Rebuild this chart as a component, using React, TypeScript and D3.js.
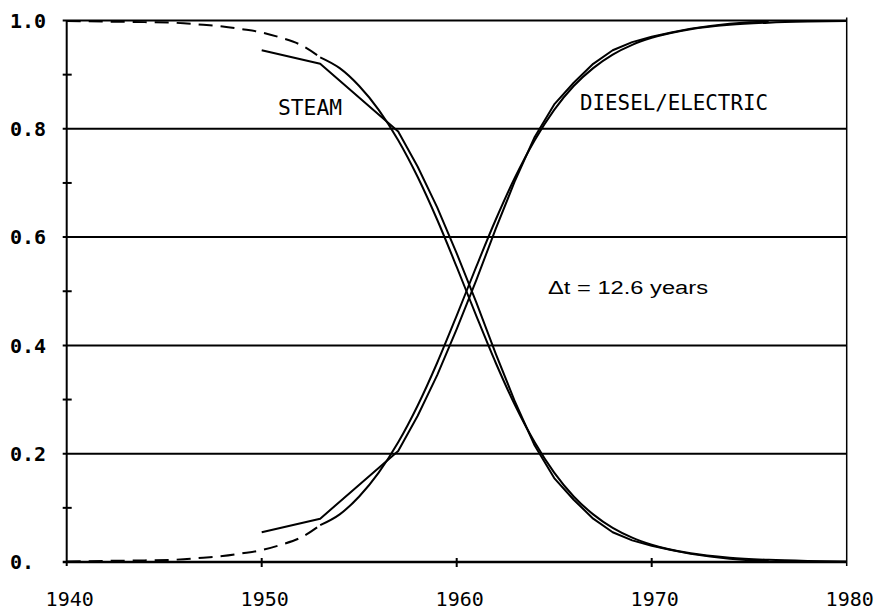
import React, { useEffect, useRef } from "react";
import * as d3 from "d3";

// logistic fit curves
const fitYears = [
  1940, 1942, 1944, 1946, 1947, 1948, 1949, 1950, 1951, 1952, 1953, 1954, 1955,
  1956, 1957, 1958, 1959, 1960, 1961, 1962, 1963, 1964, 1965, 1966, 1967, 1968,
  1969, 1970, 1972, 1974, 1976, 1978, 1980,
];
const dieselFit = [
  0.001, 0.002, 0.003, 0.005, 0.008, 0.011, 0.016, 0.022, 0.032, 0.045, 0.068,
  0.088, 0.121, 0.165, 0.221, 0.289, 0.368, 0.455, 0.545, 0.632, 0.711, 0.779,
  0.835, 0.879, 0.912, 0.937, 0.955, 0.968, 0.984, 0.992, 0.996, 0.998, 0.999,
];
const steamFit = [
  0.999, 0.998, 0.997, 0.995, 0.992, 0.989, 0.984, 0.978, 0.968, 0.955, 0.932,
  0.912, 0.879, 0.835, 0.779, 0.711, 0.632, 0.545, 0.455, 0.368, 0.289, 0.221,
  0.165, 0.121, 0.088, 0.063, 0.045, 0.032, 0.016, 0.008, 0.004, 0.002, 0.001,
];
const fitDashedUntil = 1953;

// observed shares
const dataYears = [
  1950, 1953, 1957, 1958, 1959, 1960, 1961, 1962, 1963, 1964, 1965, 1966, 1967,
  1968, 1969, 1970, 1971, 1972, 1973, 1974, 1975, 1976,
];
const dieselData = [
  0.055, 0.08, 0.205, 0.27, 0.345, 0.43, 0.52, 0.615, 0.705, 0.785, 0.845,
  0.885, 0.92, 0.945, 0.96, 0.97, 0.978, 0.985, 0.99, 0.994, 0.997, 0.998,
];
const steamData = [
  0.945, 0.92, 0.795, 0.73, 0.655, 0.57, 0.48, 0.385, 0.295, 0.215, 0.155,
  0.115, 0.08, 0.055, 0.04, 0.03, 0.022, 0.015, 0.01, 0.006, 0.003, 0.002,
];

const xTicks = [1940, 1950, 1960, 1970, 1980];
const yTicks = [0, 0.2, 0.4, 0.6, 0.8, 1.0];
const yTickLabels = ["0.", "0.2", "0.4", "0.6", "0.8", "1.0"];
const yMinorTicks = [0.1, 0.3, 0.5, 0.7, 0.9];

function App() {
  const svgRef = useRef<SVGSVGElement>(null);

  useEffect(() => {
    const width = 878;
    const height = 613;
    const left = 66.7;
    const right = 846.7;
    const top = 20.5;
    const bottom = 562;

    const svg = d3.select(svgRef.current);
    svg.selectAll("*").remove();
    svg.attr("width", width).attr("height", height);

    const x = d3.scaleLinear().domain([1940, 1980]).range([left, right]);
    const y = d3.scaleLinear().domain([0, 1]).range([bottom, top]);

    const ink = "#000";
    const sw = 2;

    // gridlines
    svg
      .append("g")
      .selectAll("line")
      .data(yTicks.filter((d) => d > 0))
      .join("line")
      .attr("x1", left - 4)
      .attr("x2", right)
      .attr("y1", (d) => y(d))
      .attr("y2", (d) => y(d))
      .attr("stroke", ink)
      .attr("stroke-width", sw);

    // frame
    svg
      .append("line")
      .attr("x1", left)
      .attr("x2", left)
      .attr("y1", top)
      .attr("y2", bottom + 4)
      .attr("stroke", ink)
      .attr("stroke-width", sw);
    svg
      .append("line")
      .attr("x1", left - 4)
      .attr("x2", right)
      .attr("y1", bottom)
      .attr("y2", bottom)
      .attr("stroke", ink)
      .attr("stroke-width", sw + 0.5);
    svg
      .append("line")
      .attr("x1", right)
      .attr("x2", right)
      .attr("y1", top - 3)
      .attr("y2", bottom + 4)
      .attr("stroke", ink)
      .attr("stroke-width", 1.5);

    // minor ticks on y axis
    svg
      .append("g")
      .selectAll("line")
      .data(yMinorTicks)
      .join("line")
      .attr("x1", left - 4)
      .attr("x2", left + 5)
      .attr("y1", (d) => y(d))
      .attr("y2", (d) => y(d))
      .attr("stroke", ink)
      .attr("stroke-width", sw);

    // x ticks
    svg
      .append("g")
      .selectAll("line")
      .data(xTicks.slice(1, -1))
      .join("line")
      .attr("x1", (d) => x(d))
      .attr("x2", (d) => x(d))
      .attr("y1", bottom - 4)
      .attr("y2", bottom + 5)
      .attr("stroke", ink)
      .attr("stroke-width", sw);

    // tick labels
    svg
      .append("g")
      .selectAll("text")
      .data(yTicks)
      .join("text")
      .attr("x", 10)
      .attr("y", (d) => y(d))
      .attr("dy", "0.36em")
      .attr("font-family", "'DejaVu Sans Mono', monospace")
      .attr("font-weight", "bold")
      .attr("font-size", 20)
      .text((d, i) => yTickLabels[i]);

    svg
      .append("g")
      .selectAll("text")
      .data(xTicks)
      .join("text")
      .attr("x", (d) => x(d) + 3)
      .attr("y", 606)
      .attr("text-anchor", "middle")
      .attr("font-family", "'DejaVu Sans Mono', monospace")
      .attr("font-size", 20)
      .text((d) => d);

    const fitLine = d3
      .line<[number, number]>()
      .x((d) => x(d[0]))
      .y((d) => y(d[1]))
      .curve(d3.curveMonotoneX);
    const dataLine = d3
      .line<[number, number]>()
      .x((d) => x(d[0]))
      .y((d) => y(d[1]));

    [dieselFit, steamFit].forEach((vals) => {
      const pts = fitYears.map((t, i) => [t, vals[i]] as [number, number]);
      svg
        .append("path")
        .datum(pts.filter((d) => d[0] <= fitDashedUntil))
        .attr("fill", "none")
        .attr("stroke", ink)
        .attr("stroke-width", sw)
        .attr("stroke-dasharray", "14,8")
        .attr("d", fitLine);
      svg
        .append("path")
        .datum(pts.filter((d) => d[0] >= fitDashedUntil))
        .attr("fill", "none")
        .attr("stroke", ink)
        .attr("stroke-width", sw)
        .attr("d", fitLine);
    });

    [dieselData, steamData].forEach((vals) => {
      svg
        .append("path")
        .datum(dataYears.map((t, i) => [t, vals[i]] as [number, number]))
        .attr("fill", "none")
        .attr("stroke", ink)
        .attr("stroke-width", sw)
        .attr("stroke-linejoin", "round")
        .attr("d", dataLine);
    });

    // curve labels
    svg
      .append("text")
      .attr("x", 278)
      .attr("y", 115)
      .attr("font-family", "'DejaVu Sans Mono', monospace")
      .attr("font-size", 22)
      .attr("textLength", 64)
      .attr("lengthAdjust", "spacingAndGlyphs")
      .text("STEAM");
    svg
      .append("text")
      .attr("x", 580)
      .attr("y", 110)
      .attr("font-family", "'DejaVu Sans Mono', monospace")
      .attr("font-size", 22)
      .attr("textLength", 188)
      .attr("lengthAdjust", "spacingAndGlyphs")
      .text("DIESEL/ELECTRIC");

    svg
      .append("text")
      .attr("x", 548)
      .attr("y", 294)
      .attr("font-family", "'Liberation Sans', Arial, sans-serif")
      .attr("font-size", 18)
      .attr("textLength", 160)
      .attr("lengthAdjust", "spacingAndGlyphs")
      .text("\u0394t = 12.6 years");
  }, []);

  return (
    <svg
      ref={svgRef}
      style={{ position: "absolute", left: 0, top: 0, background: "#fff" }}
    ></svg>
  );
}

export default App;
